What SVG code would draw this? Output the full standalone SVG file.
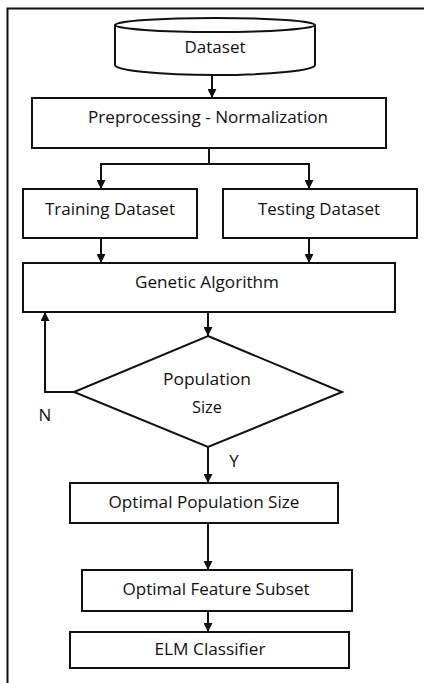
<svg xmlns="http://www.w3.org/2000/svg" width="424" height="683" viewBox="0 0 424 683">
<style>
.box{fill:#fff;stroke:#111;stroke-width:2}
.ln{fill:none;stroke:#111;stroke-width:2}
.t{font-family:"Open Sans","Liberation Sans",sans-serif;font-size:17px;fill:#111;text-anchor:middle}
</style>
<defs>
<marker id="ah" viewBox="0 0 10 10" refX="10" refY="5" markerWidth="4.5" markerHeight="4.5" orient="auto" markerUnits="strokeWidth">
<path d="M0,0 L10,5 L0,10 Z" fill="#111"/>
</marker>
</defs>
<rect x="0" y="0" width="424" height="683" fill="#fff"/>
<path d="M7.5,690 V8.5 H430" class="ln"/>
<g id="dataset">
<path d="M115,25 V65 A100,10 0 0 0 315,65 V25" class="box"/>
<ellipse cx="215" cy="25" rx="100" ry="7" class="box"/>
<text x="215" y="53" class="t" textLength="61" lengthAdjust="spacingAndGlyphs">Dataset</text>
</g>
<g id="preprocessing">
<rect x="32" y="98" width="354" height="50" class="box"/>
<text x="208" y="123" class="t" textLength="240" lengthAdjust="spacingAndGlyphs">Preprocessing - Normalization</text>
</g>
<g id="training">
<rect x="23" y="189" width="174" height="49" class="box"/>
<text x="110" y="215" class="t" textLength="130" lengthAdjust="spacingAndGlyphs">Training Dataset</text>
</g>
<g id="testing">
<rect x="223" y="189" width="194" height="49" class="box"/>
<text x="319" y="215" class="t" textLength="122" lengthAdjust="spacingAndGlyphs">Testing Dataset</text>
</g>
<g id="genetic">
<rect x="23" y="263" width="372" height="49" class="box"/>
<text x="207" y="288" class="t" textLength="144" lengthAdjust="spacingAndGlyphs">Genetic Algorithm</text>
</g>
<g id="population">
<path d="M208,336 L342,392 L208,447 L74,392 Z" class="box"/>
<text x="207" y="385" class="t" textLength="88" lengthAdjust="spacingAndGlyphs">Population</text>
<text x="207" y="413" class="t" textLength="30" lengthAdjust="spacingAndGlyphs">Size</text>
</g>
<g id="optimal-pop">
<rect x="70" y="483" width="268" height="40" class="box"/>
<text x="204" y="508" class="t" textLength="191" lengthAdjust="spacingAndGlyphs">Optimal Population Size</text>
</g>
<g id="optimal-feat">
<rect x="82" y="570" width="270" height="41" class="box"/>
<text x="216" y="595" class="t" textLength="187" lengthAdjust="spacingAndGlyphs">Optimal Feature Subset</text>
</g>
<g id="elm">
<rect x="70" y="632" width="279" height="36" class="box"/>
<text x="210" y="655" class="t" textLength="111" lengthAdjust="spacingAndGlyphs">ELM Classifier</text>
</g>
<g id="connectors">
<line x1="212" y1="76" x2="212" y2="98" class="ln" marker-end="url(#ah)"/>
<path d="M209,148 V164 M101,164 H309" class="ln"/>
<line x1="101" y1="163" x2="101" y2="189" class="ln" marker-end="url(#ah)"/>
<line x1="309" y1="163" x2="309" y2="189" class="ln" marker-end="url(#ah)"/>
<line x1="101" y1="238" x2="101" y2="263" class="ln" marker-end="url(#ah)"/>
<line x1="309" y1="238" x2="309" y2="263" class="ln" marker-end="url(#ah)"/>
<line x1="208" y1="312" x2="208" y2="336" class="ln" marker-end="url(#ah)"/>
<path d="M74,392 H45 V312" class="ln" marker-end="url(#ah)"/>
<line x1="208" y1="447" x2="208" y2="483" class="ln" marker-end="url(#ah)"/>
<line x1="208" y1="523" x2="208" y2="570" class="ln" marker-end="url(#ah)"/>
<line x1="208" y1="611" x2="208" y2="632" class="ln" marker-end="url(#ah)"/>
<text x="45" y="421" class="t">N</text>
<text x="234" y="467" class="t">Y</text>
</g>
</svg>
